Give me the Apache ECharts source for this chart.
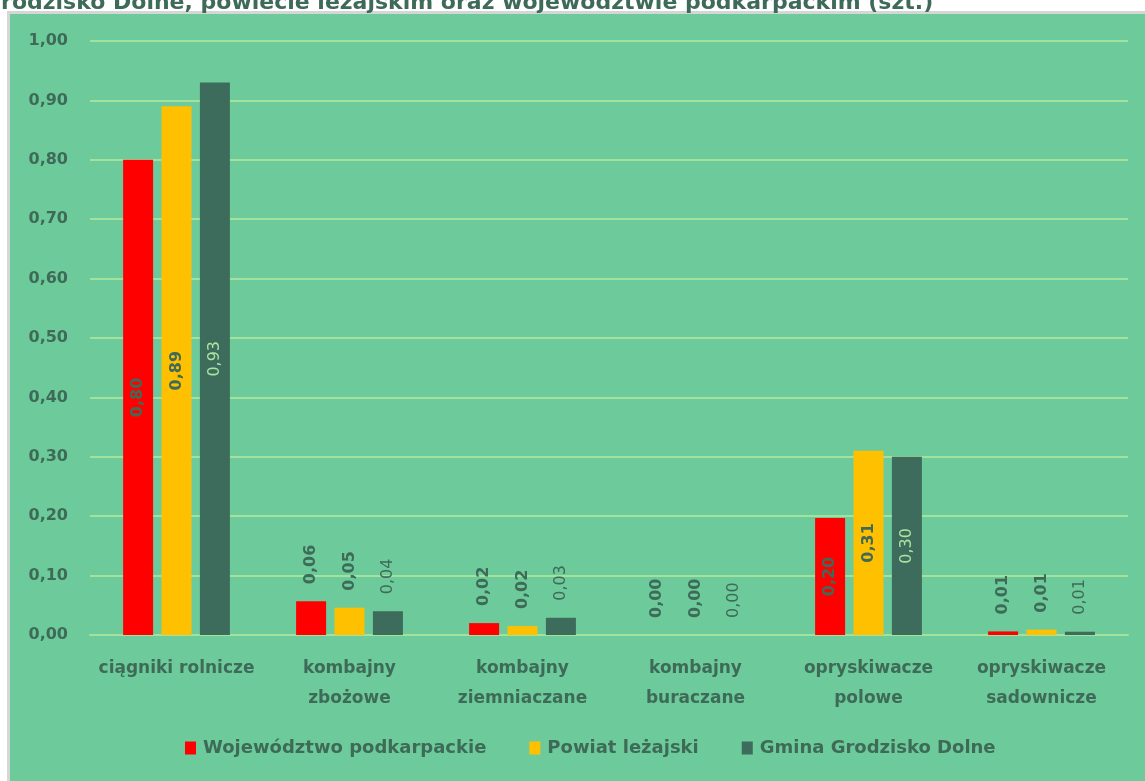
<!DOCTYPE html>
<html>
<head>
<meta charset="utf-8">
<script src="https://cdn.jsdelivr.net/npm/echarts@6/dist/echarts.min.js"></script>
<style>
html,body{margin:0;padding:0;background:#fff;}
#c{width:1145px;height:781px;}
</style>
</head>
<body>
<div id="c"></div>
<script>
const titleText = 'Grodzisko Dolne, powiecie leżajskim oraz województwie podkarpackim (szt.)';
const categories = ['ciągniki rolnicze', 'kombajny\nzbożowe', 'kombajny\nziemniaczane', 'kombajny\nburaczane', 'opryskiwacze\npolowe', 'opryskiwacze\nsadownicze'];
const seriesNames = ['Województwo podkarpackie', 'Powiat leżajski', 'Gmina Grodzisko Dolne'];
const wojewodztwo = [0.80, 0.057, 0.020, 0.0, 0.197, 0.006];
const powiat = [0.89, 0.046, 0.015, 0.0, 0.31, 0.009];
const gmina = [0.93, 0.040, 0.029, 0.0, 0.30, 0.0055];
const yTicks = { min: 0, max: 1, interval: 0.1 };

const DARK = '#3e6a58';
const FONT = 'DejaVu Sans';
const fmt = v => (Math.round(v * 100) / 100).toFixed(2).replace('.', ',');

function makeData(arr, insideColor, insideWeight, outsideColor, outsideWeight) {
  return arr.map(v => {
    const inside = v >= 0.1;
    return {
      value: v,
      label: inside ? {
        position: 'inside', rotate: 90, align: 'center', verticalAlign: 'middle',
        color: insideColor, fontWeight: insideWeight
      } : {
        position: 'top', distance: 17, rotate: 90, align: 'left', verticalAlign: 'middle',
        color: outsideColor, fontWeight: outsideWeight
      }
    };
  });
}

const colors = ['#ff0000', '#ffc000', '#3d6b5c'];
const datasets = [
  makeData(wojewodztwo, DARK, 'bold', DARK, 'bold'),
  makeData(powiat, DARK, 'bold', DARK, 'bold'),
  makeData(gmina, '#a8e6a0', 'normal', DARK, 'normal')
];

const chart = echarts.init(document.getElementById('c'), null, { renderer: 'canvas' });
chart.setOption({
  backgroundColor: '#ffffff',
  animation: false,
  graphic: [
    { type: 'rect', z: -10, shape: { x: 8.5, y: 12.5, width: 1145, height: 781 },
      style: { fill: '#6dcb9b', stroke: '#d6d6d6', lineWidth: 3 } },
    { type: 'text', left: -17, top: -8, z: -5,
      style: { text: titleText, font: 'bold 22px "DejaVu Sans"', fill: DARK } }
  ],
  color: colors,
  grid: { left: 90, right: 17, top: 41, bottom: 146, containLabel: false },
  legend: {
    bottom: 19, left: 180,
    itemWidth: 11, itemHeight: 13, itemGap: 43,
    icon: 'rect',
    textStyle: { color: DARK, fontSize: 18, fontWeight: 'bold', fontFamily: FONT, padding: [0, 0, 0, 2] },
    data: seriesNames
  },
  xAxis: {
    type: 'category',
    data: categories,
    axisLine: { show: true, lineStyle: { color: '#a3e29d', width: 2 } },
    axisTick: { show: false },
    axisLabel: { color: DARK, fontSize: 17, fontWeight: 'bold', fontFamily: FONT, lineHeight: 30, margin: 19, interval: 0 }
  },
  yAxis: {
    type: 'value',
    min: yTicks.min, max: yTicks.max, interval: yTicks.interval,
    axisLine: { show: false },
    axisTick: { show: false },
    axisLabel: { color: DARK, fontSize: 16, fontWeight: 'bold', fontFamily: FONT, margin: 22, formatter: v => fmt(v) },
    splitLine: { lineStyle: { color: '#a3e29d', width: 2 } }
  },
  series: seriesNames.map((n, i) => ({
    name: n,
    type: 'bar',
    data: datasets[i],
    barWidth: 30,
    barGap: '28%',
    label: { show: true, fontSize: 16, fontFamily: FONT, formatter: p => fmt(p.value) }
  }))
});
</script>
</body>
</html>
